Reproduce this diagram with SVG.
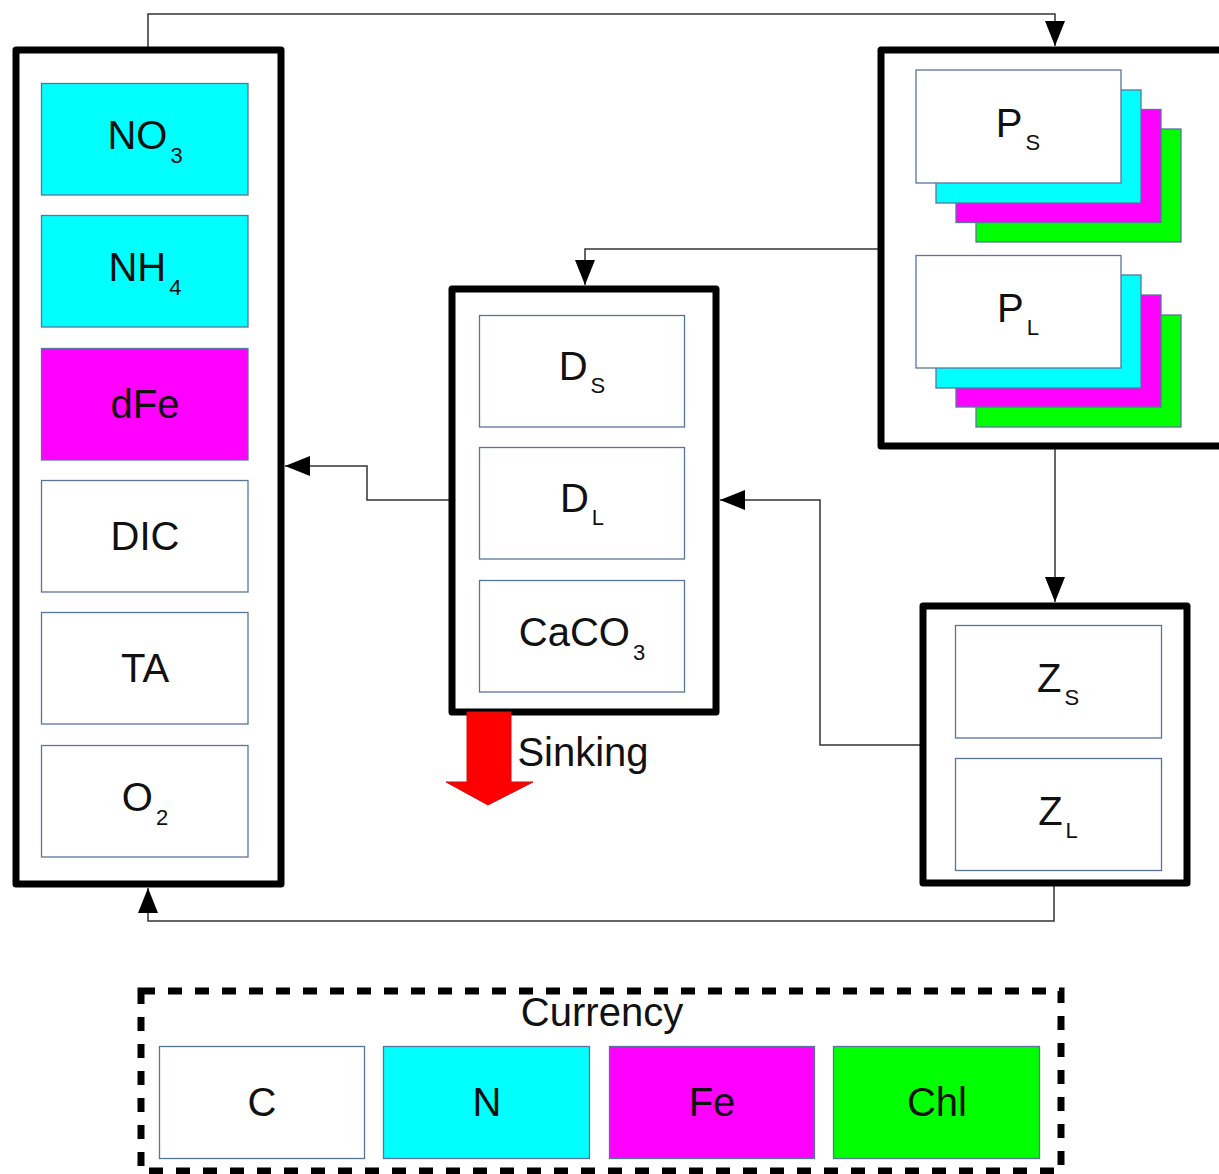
<svg xmlns="http://www.w3.org/2000/svg" width="1219" height="1174" viewBox="0 0 1219 1174">
<defs>
<style>
.outer{fill:#ffffff;stroke:#000;stroke-width:7;stroke-linejoin:round}
.inner{stroke:#5a759c;stroke-width:1.3}
.w{fill:#ffffff}
.c{fill:#00ffff}
.m{fill:#ff00ff}
.g{fill:#00ff00}
.lbl{font-family:"Liberation Sans",Arial,sans-serif;font-size:40px;fill:#111;text-anchor:middle}
.sub{font-size:22px}
.conn{fill:none;stroke:#333;stroke-width:1.5}
.dash{fill:#fff;stroke:#000;stroke-width:7;stroke-dasharray:14 13}
</style>
<marker id="arr" markerUnits="userSpaceOnUse" markerWidth="26" markerHeight="20" refX="25" refY="10" orient="auto">
<path d="M0,0 L25,10 L0,20 z" fill="#000"/>
</marker>
</defs>
<rect width="1219" height="1174" fill="#fff"/>

<g id="connectors">
<path class="conn" d="M148,50 V14 H1055 V46" marker-end="url(#arr)"/>
<path class="conn" d="M881,249 H585 V285" marker-end="url(#arr)"/>
<path class="conn" d="M1055,446 V602" marker-end="url(#arr)"/>
<path class="conn" d="M452,500 H367 V466 H285" marker-end="url(#arr)"/>
<path class="conn" d="M923,745 H820 V500 H720" marker-end="url(#arr)"/>
<path class="conn" d="M1054,883 V921 H148 V888" marker-end="url(#arr)"/>
</g>

<g id="nutrients">
<rect class="outer" x="16" y="50" width="265" height="834"/>
<g id="no3"><rect class="inner c" x="41.5" y="83.5" width="206.5" height="111.5"/><text class="lbl" x="145" y="149">NO<tspan class="sub" dx="3" dy="14">3</tspan></text></g>
<g id="nh4"><rect class="inner c" x="41.5" y="215.5" width="206.5" height="111.5"/><text class="lbl" x="145" y="281">NH<tspan class="sub" dx="3" dy="14">4</tspan></text></g>
<g id="dfe"><rect class="inner m" x="41.5" y="348.5" width="206.5" height="111.5"/><text class="lbl" x="145" y="418">dFe</text></g>
<g id="dic"><rect class="inner w" x="41.5" y="480.5" width="206.5" height="111.5"/><text class="lbl" x="145" y="550">DIC</text></g>
<g id="ta"><rect class="inner w" x="41.5" y="612.5" width="206.5" height="111.5"/><text class="lbl" x="145" y="682">TA</text></g>
<g id="o2"><rect class="inner w" x="41.5" y="745.5" width="206.5" height="111.5"/><text class="lbl" x="145" y="811">O<tspan class="sub" dx="3" dy="14">2</tspan></text></g>
</g>

<g id="phyto">
<rect class="outer" x="881" y="50" width="345" height="396"/>
<g id="ps">
<rect class="inner g" x="976" y="129" width="205" height="113"/>
<rect class="inner m" x="956" y="109.5" width="205" height="113"/>
<rect class="inner c" x="936" y="90" width="205" height="113"/>
<rect class="inner w" x="916" y="70" width="205" height="113"/>
<text class="lbl" x="1018" y="137">P<tspan class="sub" dx="3" dy="13">S</tspan></text>
</g>
<g id="pl">
<rect class="inner g" x="976" y="315" width="205" height="112"/>
<rect class="inner m" x="956" y="295" width="205" height="112"/>
<rect class="inner c" x="936" y="275" width="205" height="113"/>
<rect class="inner w" x="916" y="255.5" width="205" height="112.5"/>
<text class="lbl" x="1018" y="322">P<tspan class="sub" dx="3" dy="13">L</tspan></text>
</g>
</g>

<g id="detritus">
<rect class="outer" x="452" y="289" width="264" height="423"/>
<g id="ds"><rect class="inner w" x="479.5" y="315.5" width="205" height="111.5"/><text class="lbl" x="582" y="380">D<tspan class="sub" dx="3" dy="13">S</tspan></text></g>
<g id="dl"><rect class="inner w" x="479.5" y="447.5" width="205" height="111.5"/><text class="lbl" x="582" y="512">D<tspan class="sub" dx="3" dy="13">L</tspan></text></g>
<g id="caco3"><rect class="inner w" x="479.5" y="580.5" width="205" height="111.5"/><text class="lbl" x="582" y="646">CaCO<tspan class="sub" dx="3" dy="14">3</tspan></text></g>
</g>

<g id="sinking">
<polygon points="467,712 511,712 511,782 533,782 488,805 446,782 467,782" fill="#ff0000" stroke="#cc1010" stroke-width="1"/>
<text class="lbl" x="583" y="766">Sinking</text>
</g>

<g id="zoo">
<rect class="outer" x="923" y="606" width="264" height="277"/>
<g id="zs"><rect class="inner w" x="955.5" y="625.5" width="206" height="112.5"/><text class="lbl" x="1058" y="692">Z<tspan class="sub" dx="3" dy="13">S</tspan></text></g>
<g id="zl"><rect class="inner w" x="955.5" y="758.5" width="206" height="112"/><text class="lbl" x="1058" y="825">Z<tspan class="sub" dx="3" dy="13">L</tspan></text></g>
</g>

<g id="currency">
<rect class="dash" x="141" y="991" width="920" height="180"/>
<text class="lbl" x="602" y="1026">Currency</text>
<g id="cur-c"><rect class="inner w" x="159.5" y="1046.5" width="205" height="112"/><text class="lbl" x="262" y="1116">C</text></g>
<g id="cur-n"><rect class="inner c" x="383.5" y="1046.5" width="206" height="112"/><text class="lbl" x="487" y="1116">N</text></g>
<g id="cur-fe"><rect class="inner m" x="609.5" y="1046.5" width="205" height="112"/><text class="lbl" x="712" y="1116">Fe</text></g>
<g id="cur-chl"><rect class="inner g" x="833.5" y="1046.5" width="206" height="112"/><text class="lbl" x="937" y="1116">Chl</text></g>
</g>
</svg>
